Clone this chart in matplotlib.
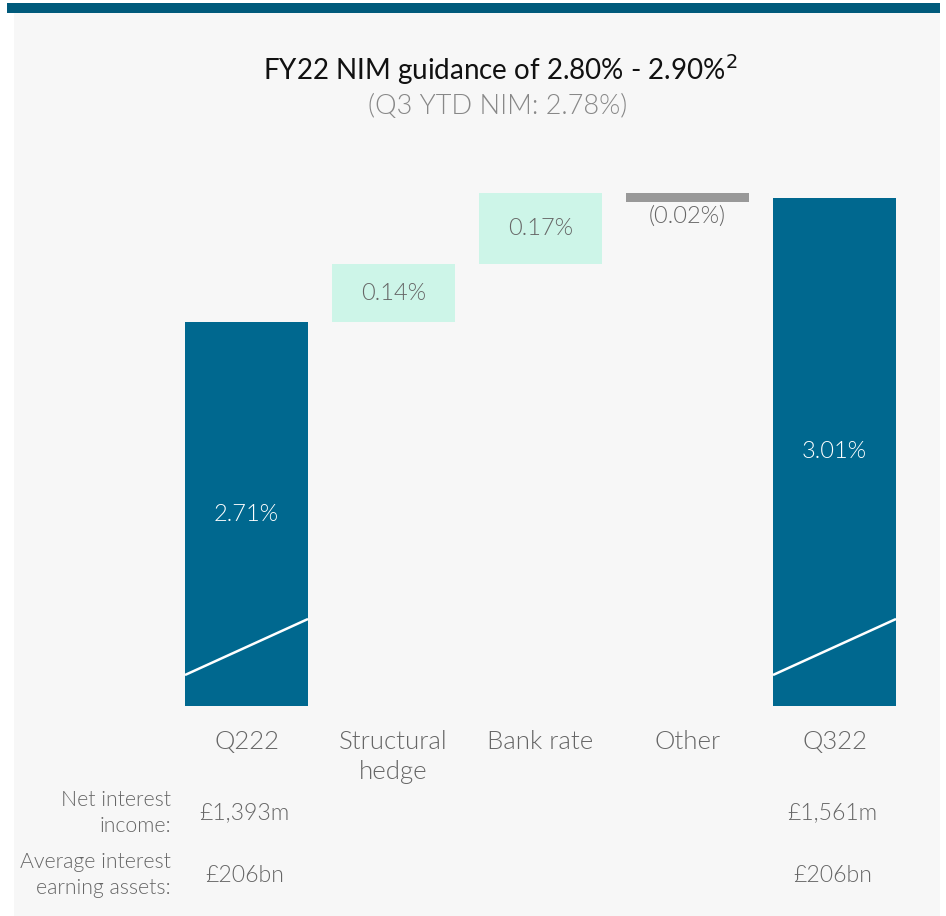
import matplotlib
matplotlib.use("Agg")
import matplotlib.pyplot as plt
from matplotlib.patches import Rectangle
from matplotlib import font_manager

# ---------------- data ----------------
categories = ["Q222", "Structural\nhedge", "Bank rate", "Other", "Q322"]
values = [2.71, 0.14, 0.17, -0.02, 3.01]
kinds = ["total", "delta", "delta", "delta", "total"]
value_labels = ["2.71%", "0.14%", "0.17%", "(0.02%)", "3.01%"]
title = "FY22 NIM guidance of 2.80% - 2.90%$^{2}$"
subtitle = "(Q3 YTD NIM: 2.78%)"
row_labels = ["Net interest\nincome:", "Average interest\nearning assets:"]
nii_values = ["£1,393m", "", "", "", "£1,561m"]
aiea_values = ["£206bn", "", "", "", "£206bn"]

# ---------------- style ----------------
W, H = 946, 916
DARK = "#00688f"
BAND = "#005a7b"
LIGHT = "#cdf5e8"
GREYBAR = "#999999"
BG = "#f7f7f7"
TXT = "#666666"
LW = 300

names = {f.name for f in font_manager.fontManager.ttflist}
FONT = "Lato" if "Lato" in names else "DejaVu Sans"
plt.rcParams["font.family"] = [FONT, "DejaVu Sans"]

fig = plt.figure(figsize=(W / 100, H / 100), dpi=100)
fig.patch.set_facecolor("white")

def fx(px):
    return px / W

def fy(py):
    return 1 - py / H

# background panel and top band
fig.patches.append(Rectangle((fx(14), 0), fx(940) - fx(14), fy(13), transform=fig.transFigure,
                             facecolor=BG, edgecolor="none", zorder=-5))
fig.patches.append(Rectangle((fx(7), fy(13)), fx(940) - fx(7), fy(3) - fy(13), transform=fig.transFigure,
                             facecolor=BAND, edgecolor="none", zorder=-5))

# axes: pixel-space layout
ax_left, ax_right, ax_top, ax_bottom = 14, 940, 150, 706
ax = fig.add_axes([fx(ax_left), fy(ax_bottom), fx(ax_right) - fx(ax_left), fy(ax_top) - fy(ax_bottom)])
ax.set_zorder(2)
ax.set_facecolor("none")
ax.patch.set_alpha(0)
for s in ax.spines.values():
    s.set_visible(False)
ax.set_xticks([])
ax.set_yticks([])

px_per_unit_x = 147.0
center0 = 246.5
ax.set_xlim((ax_left - center0) / px_per_unit_x, (ax_right - center0) / px_per_unit_x)
px_per_pct = 415.0
y_base = 1.785
ax.set_ylim(y_base, y_base + (ax_bottom - ax_top) / px_per_pct)

bw = 123 / px_per_unit_x
VFS = 17
running = 0.0
for i, (cat, v, k, lab) in enumerate(zip(categories, values, kinds, value_labels)):
    if k == "total":
        bottom, top = y_base, v
        running = v
        ax.bar(i, top - bottom, bottom=bottom, width=bw, color=DARK, zorder=2)
        ax.text(i, (top + bottom) / 2, lab, ha="center", va="center", color="white",
                fontsize=VFS, fontweight=LW, zorder=4)
        # axis-break marker
        x0, x1 = i - bw / 2, i + bw / 2
        ax.plot([x0, x1], [y_base + 31 / px_per_pct, y_base + 87 / px_per_pct], color="white",
                lw=1.8, zorder=3, solid_capstyle="butt")
    else:
        start = running
        running = running + v
        lo, hi = min(start, running), max(start, running)
        if v >= 0:
            ax.bar(i, hi - lo, bottom=lo, width=bw, color=LIGHT, zorder=2)
            ax.text(i, (hi + lo) / 2, lab, ha="center", va="center", color=TXT,
                    fontsize=VFS, fontweight=LW, zorder=4)
        else:
            ax.bar(i, hi - lo, bottom=lo, width=bw, color=GREYBAR, zorder=2)
            ax.text(i, lo - 0.008, lab, ha="center", va="top", color=TXT,
                    fontsize=VFS, fontweight=LW, zorder=4)

# category labels
for i, cat in enumerate(categories):
    fig.text(fx(center0 + i * px_per_unit_x), fy(730), cat, ha="center", va="top",
             color=TXT, fontsize=18.5, fontweight=LW, linespacing=1.32)

# titles
fig.text(fx(500), fy(70), title, ha="center", va="center", fontsize=20, color="#111111")
fig.text(fx(498), fy(106), subtitle, ha="center", va="center", fontsize=19.5, color="#888888",
         fontweight=LW)

# bottom rows
for j, (rl, vals) in enumerate(zip(row_labels, [nii_values, aiea_values])):
    yc = 813 + j * 62
    fig.text(fx(171), fy(yc), rl, ha="right", va="center", fontsize=15.3, color=TXT,
             fontweight=LW, linespacing=1.35)
    for i, v in enumerate(vals):
        if v:
            xpix = center0 + i * px_per_unit_x
            fig.text(fx(xpix - 2), fy(yc), v, ha="center", va="center", fontsize=16.6,
                     color=TXT, fontweight=LW)

fig.savefig("out.png", dpi=100, facecolor=fig.get_facecolor())
